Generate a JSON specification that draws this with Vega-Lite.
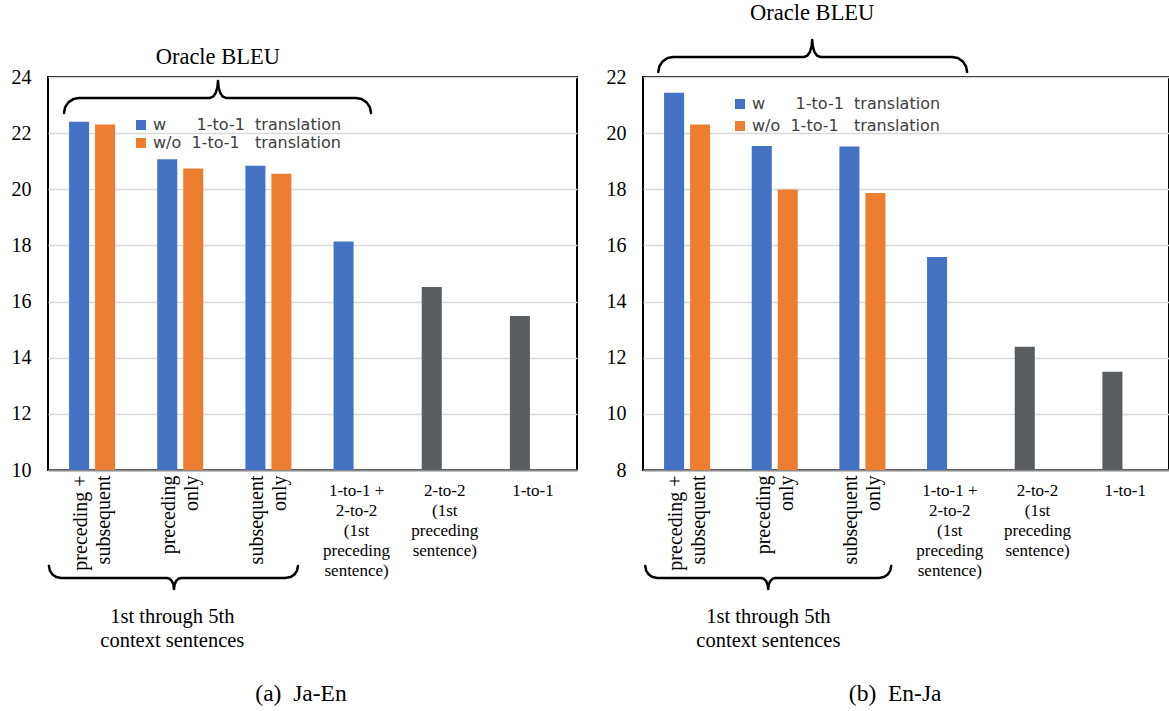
{
  "$schema": "https://vega.github.io/schema/vega-lite/v6.json",
  "background": "white",
  "padding": {"left": 10, "top": 1, "right": 1, "bottom": 2},
  "config": {
    "view": {"stroke": "#000", "strokeWidth": 2},
    "font": "Liberation Serif"
  },
  "datasets": {
    "ja_en": [
      {"setting": "preceding +|subsequent", "series": "w", "kind": "context", "bleu": 22.41},
      {"setting": "preceding +|subsequent", "series": "w/o", "kind": "context", "bleu": 22.31},
      {"setting": "preceding|only", "series": "w", "kind": "context", "bleu": 21.07},
      {"setting": "preceding|only", "series": "w/o", "kind": "context", "bleu": 20.74},
      {"setting": "subsequent|only", "series": "w", "kind": "context", "bleu": 20.84},
      {"setting": "subsequent|only", "series": "w/o", "kind": "context", "bleu": 20.55},
      {"setting": "1-to-1 +|2-to-2|(1st|preceding|sentence)", "series": "w", "kind": "context", "bleu": 18.14},
      {"setting": "2-to-2|(1st|preceding|sentence)", "series": "w", "kind": "baseline", "bleu": 16.52},
      {"setting": "1-to-1", "series": "w", "kind": "baseline", "bleu": 15.49}
    ],
    "en_ja": [
      {"setting": "preceding +|subsequent", "series": "w", "kind": "context", "bleu": 21.44},
      {"setting": "preceding +|subsequent", "series": "w/o", "kind": "context", "bleu": 20.31},
      {"setting": "preceding|only", "series": "w", "kind": "context", "bleu": 19.54},
      {"setting": "preceding|only", "series": "w/o", "kind": "context", "bleu": 17.99},
      {"setting": "subsequent|only", "series": "w", "kind": "context", "bleu": 19.52},
      {"setting": "subsequent|only", "series": "w/o", "kind": "context", "bleu": 17.87},
      {"setting": "1-to-1 +|2-to-2|(1st|preceding|sentence)", "series": "w", "kind": "context", "bleu": 15.59},
      {"setting": "2-to-2|(1st|preceding|sentence)", "series": "w", "kind": "baseline", "bleu": 12.39},
      {"setting": "1-to-1", "series": "w", "kind": "baseline", "bleu": 11.5}
    ],
    "brace_ja_en": [
      {"brace": "top", "i": 1, "u": 0.1815, "v": 22.718},
      {"brace": "top", "i": 2, "u": 0.194, "v": 22.921},
      {"brace": "top", "i": 3, "u": 0.231, "v": 23.096},
      {"brace": "top", "i": 4, "u": 0.287, "v": 23.213},
      {"brace": "top", "i": 5, "u": 0.352, "v": 23.253},
      {"brace": "top", "i": 6, "u": 1.837, "v": 23.253},
      {"brace": "top", "i": 7, "u": 1.872, "v": 23.299},
      {"brace": "top", "i": 8, "u": 1.902, "v": 23.43},
      {"brace": "top", "i": 9, "u": 1.921, "v": 23.626},
      {"brace": "top", "i": 10, "u": 1.928, "v": 23.858},
      {"brace": "top", "i": 11, "u": 1.935, "v": 23.626},
      {"brace": "top", "i": 12, "u": 1.954, "v": 23.43},
      {"brace": "top", "i": 13, "u": 1.984, "v": 23.299},
      {"brace": "top", "i": 14, "u": 2.019, "v": 23.253},
      {"brace": "top", "i": 15, "u": 3.493, "v": 23.253},
      {"brace": "top", "i": 16, "u": 3.558, "v": 23.213},
      {"brace": "top", "i": 17, "u": 3.613, "v": 23.096},
      {"brace": "top", "i": 18, "u": 3.651, "v": 22.921},
      {"brace": "top", "i": 19, "u": 3.663, "v": 22.718},
      {"brace": "bot", "i": 1, "u": 0.011, "v": 6.58},
      {"brace": "bot", "i": 2, "u": 0.021, "v": 6.416},
      {"brace": "bot", "i": 3, "u": 0.051, "v": 6.277},
      {"brace": "bot", "i": 4, "u": 0.095, "v": 6.185},
      {"brace": "bot", "i": 5, "u": 0.147, "v": 6.152},
      {"brace": "bot", "i": 6, "u": 1.35, "v": 6.152},
      {"brace": "bot", "i": 7, "u": 1.38, "v": 6.124},
      {"brace": "bot", "i": 8, "u": 1.406, "v": 6.039},
      {"brace": "bot", "i": 9, "u": 1.423, "v": 5.911},
      {"brace": "bot", "i": 10, "u": 1.429, "v": 5.761},
      {"brace": "bot", "i": 11, "u": 1.435, "v": 5.911},
      {"brace": "bot", "i": 12, "u": 1.452, "v": 6.039},
      {"brace": "bot", "i": 13, "u": 1.478, "v": 6.124},
      {"brace": "bot", "i": 14, "u": 1.508, "v": 6.152},
      {"brace": "bot", "i": 15, "u": 2.688, "v": 6.152},
      {"brace": "bot", "i": 16, "u": 2.751, "v": 6.185},
      {"brace": "bot", "i": 17, "u": 2.795, "v": 6.277},
      {"brace": "bot", "i": 18, "u": 2.825, "v": 6.416},
      {"brace": "bot", "i": 19, "u": 2.835, "v": 6.58}
    ],
    "brace_en_ja": [
      {"brace": "top", "i": 1, "u": 0.174, "v": 22.179},
      {"brace": "top", "i": 2, "u": 0.187, "v": 22.382},
      {"brace": "top", "i": 3, "u": 0.224, "v": 22.557},
      {"brace": "top", "i": 4, "u": 0.28, "v": 22.674},
      {"brace": "top", "i": 5, "u": 0.345, "v": 22.713},
      {"brace": "top", "i": 6, "u": 1.839, "v": 22.713},
      {"brace": "top", "i": 7, "u": 1.874, "v": 22.76},
      {"brace": "top", "i": 8, "u": 1.904, "v": 22.891},
      {"brace": "top", "i": 9, "u": 1.923, "v": 23.087},
      {"brace": "top", "i": 10, "u": 1.93, "v": 23.319},
      {"brace": "top", "i": 11, "u": 1.937, "v": 23.087},
      {"brace": "top", "i": 12, "u": 1.956, "v": 22.891},
      {"brace": "top", "i": 13, "u": 1.986, "v": 22.76},
      {"brace": "top", "i": 14, "u": 2.021, "v": 22.713},
      {"brace": "top", "i": 15, "u": 3.526, "v": 22.713},
      {"brace": "top", "i": 16, "u": 3.591, "v": 22.674},
      {"brace": "top", "i": 17, "u": 3.647, "v": 22.557},
      {"brace": "top", "i": 18, "u": 3.684, "v": 22.382},
      {"brace": "top", "i": 19, "u": 3.697, "v": 22.179},
      {"brace": "bot", "i": 1, "u": 0.026, "v": 4.58},
      {"brace": "bot", "i": 2, "u": 0.036, "v": 4.416},
      {"brace": "bot", "i": 3, "u": 0.066, "v": 4.277},
      {"brace": "bot", "i": 4, "u": 0.11, "v": 4.185},
      {"brace": "bot", "i": 5, "u": 0.163, "v": 4.152},
      {"brace": "bot", "i": 6, "u": 1.348, "v": 4.152},
      {"brace": "bot", "i": 7, "u": 1.379, "v": 4.124},
      {"brace": "bot", "i": 8, "u": 1.405, "v": 4.039},
      {"brace": "bot", "i": 9, "u": 1.422, "v": 3.911},
      {"brace": "bot", "i": 10, "u": 1.428, "v": 3.761},
      {"brace": "bot", "i": 11, "u": 1.434, "v": 3.911},
      {"brace": "bot", "i": 12, "u": 1.451, "v": 4.039},
      {"brace": "bot", "i": 13, "u": 1.477, "v": 4.124},
      {"brace": "bot", "i": 14, "u": 1.508, "v": 4.152},
      {"brace": "bot", "i": 15, "u": 2.694, "v": 4.152},
      {"brace": "bot", "i": 16, "u": 2.747, "v": 4.185},
      {"brace": "bot", "i": 17, "u": 2.791, "v": 4.277},
      {"brace": "bot", "i": 18, "u": 2.821, "v": 4.416},
      {"brace": "bot", "i": 19, "u": 2.831, "v": 4.58}
    ]
  },
  "hconcat": [
    {
      "width": 529,
      "height": 393,
      "resolve": {"scale": {"x": "independent"}},
      "layer": [
        {
          "data": {"name": "ja_en"},
          "mark": {"type": "bar"},
          "encoding": {
            "x": {
              "field": "setting", "type": "nominal", "sort": null,
              "scale": {"paddingInner": 0, "paddingOuter": 0},
              "axis": {
                "title": null, "ticks": false, "domainColor": "#8c8c8c", "domainWidth": 2,
                "labelFont": "Liberation Serif", "labelColor": "#000",
                "labelExpr": "split(datum.value, '|')", "labelOverlap": false, "labelLimit": 0,
                "labelLineHeight": 20,
                "labelFontSize": {"condition": {"test": "indexof(datum.value, 'to') < 0", "value": 20}, "value": 17},
                "labelAlign": {"condition": {"test": "indexof(datum.value, 'to') < 0", "value": "right"}, "value": "center"},
                "labelBaseline": {"condition": {"test": "indexof(datum.value, 'to') < 0", "value": "middle"}, "value": "top"},
                "labelPadding": {"condition": {"test": "indexof(datum.value, 'to') < 0", "value": 5}, "value": 12},
                "labelOffset": {"condition": {"test": "indexof(datum.value, 'to') < 0", "value": -11}, "value": 0},
                "encoding": {"labels": {
                  "angle": {"condition": {"test": "indexof(datum.value, 'to') < 0", "value": 270}, "value": 0},
                  "lineHeight": {"condition": {"test": "indexof(datum.value, 'to') < 0", "value": 23}, "value": 20}
                }}
              }
            },
            "xOffset": {"field": "series", "type": "nominal", "sort": ["w", "w/o"], "scale": {"paddingInner": 0.23, "paddingOuter": 0.81}},
            "y": {
              "field": "bleu", "type": "quantitative",
              "scale": {"domain": [10, 24], "nice": false, "zero": false},
              "axis": {
                "title": null, "domain": false, "ticks": false, "grid": true,
                "gridColor": "#d9d9d9", "gridWidth": 1.3, "values": [10, 12, 14, 16, 18, 20, 22, 24],
                "labelFont": "Liberation Serif", "labelFontSize": 20, "labelColor": "#000", "labelPadding": 17
              }
            },
            "y2": {"datum": 10},
            "color": {
              "condition": {"test": "datum.kind === 'baseline'", "value": "#595d60"},
              "field": "series", "type": "nominal",
              "scale": {"domain": ["w", "w/o"], "range": ["#4472c4", "#ed7d31"]},
              "legend": {
                "orient": "none", "legendX": 85, "legendY": 40, "title": null, "padding": 0,
                "symbolType": "square", "symbolSize": 100, "symbolStrokeWidth": 0,
                "labelFont": "DejaVu Sans", "labelFontSize": 16, "labelColor": "#404040",
                "rowPadding": 2, "labelOffset": 4, "labelLimit": 0,
                "labelExpr": "datum.label == 'w' ? 'w\u00a0\u00a0\u00a0\u00a0\u00a0\u00a01-to-1\u00a0\u00a0translation' : 'w/o\u00a0\u00a01-to-1\u00a0\u00a0\u00a0translation'"
              }
            }
          }
        },
        {
          "data": {"name": "brace_ja_en"},
          "mark": {"type": "line", "color": "#000", "strokeWidth": 2.5, "strokeCap": "round", "strokeJoin": "round"},
          "encoding": {
            "x": {"field": "u", "type": "quantitative", "scale": {"domain": [0, 6], "nice": false, "zero": false}, "axis": null},
            "y": {"field": "v", "type": "quantitative", "title": null, "scale": {"domain": [10, 24], "nice": false, "zero": false}},
            "detail": {"field": "brace"},
            "order": {"field": "i"}
          }
        },
        {
          "data": {"values": [{}]},
          "mark": {"type": "text", "text": "Oracle BLEU", "font": "Liberation Serif", "fontSize": 22.5, "baseline": "alphabetic", "align": "center", "color": "#000"},
          "encoding": {
            "x": {"datum": 1.926, "type": "quantitative", "scale": {"domain": [0, 6], "nice": false, "zero": false}, "axis": null},
            "y": {"datum": 24.464, "type": "quantitative", "title": null, "scale": {"domain": [10, 24], "nice": false, "zero": false}}
          }
        },
        {
          "data": {"values": [{}]},
          "mark": {"type": "text", "text": ["1st through 5th", "context sentences"], "lineHeight": 24, "font": "Liberation Serif", "fontSize": 20.5, "baseline": "alphabetic", "align": "center", "color": "#000"},
          "encoding": {
            "x": {"datum": 1.41, "type": "quantitative", "scale": {"domain": [0, 6], "nice": false, "zero": false}, "axis": null},
            "y": {"datum": 4.549, "type": "quantitative", "title": null, "scale": {"domain": [10, 24], "nice": false, "zero": false}}
          }
        },
        {
          "data": {"values": [{}]},
          "mark": {"type": "text", "text": "(a)\u00a0\u00a0Ja-En", "font": "Liberation Serif", "fontSize": 23.5, "baseline": "alphabetic", "align": "center", "color": "#000"},
          "encoding": {
            "x": {"datum": 2.87, "type": "quantitative", "scale": {"domain": [0, 6], "nice": false, "zero": false}, "axis": null},
            "y": {"datum": 1.77, "type": "quantitative", "title": null, "scale": {"domain": [10, 24], "nice": false, "zero": false}}
          }
        }
      ]
    },
    {
      "width": 526,
      "height": 393,
      "resolve": {"scale": {"x": "independent"}},
      "layer": [
        {
          "data": {"name": "en_ja"},
          "mark": {"type": "bar"},
          "encoding": {
            "x": {
              "field": "setting", "type": "nominal", "sort": null,
              "scale": {"paddingInner": 0, "paddingOuter": 0},
              "axis": {
                "title": null, "ticks": false, "domainColor": "#8c8c8c", "domainWidth": 2,
                "labelFont": "Liberation Serif", "labelColor": "#000",
                "labelExpr": "split(datum.value, '|')", "labelOverlap": false, "labelLimit": 0,
                "labelLineHeight": 20,
                "labelFontSize": {"condition": {"test": "indexof(datum.value, 'to') < 0", "value": 20}, "value": 17},
                "labelAlign": {"condition": {"test": "indexof(datum.value, 'to') < 0", "value": "right"}, "value": "center"},
                "labelBaseline": {"condition": {"test": "indexof(datum.value, 'to') < 0", "value": "middle"}, "value": "top"},
                "labelPadding": {"condition": {"test": "indexof(datum.value, 'to') < 0", "value": 5}, "value": 12},
                "labelOffset": {"condition": {"test": "indexof(datum.value, 'to') < 0", "value": -11}, "value": 0},
                "encoding": {"labels": {
                  "angle": {"condition": {"test": "indexof(datum.value, 'to') < 0", "value": 270}, "value": 0},
                  "lineHeight": {"condition": {"test": "indexof(datum.value, 'to') < 0", "value": 23}, "value": 20}
                }}
              }
            },
            "xOffset": {"field": "series", "type": "nominal", "sort": ["w", "w/o"], "scale": {"paddingInner": 0.23, "paddingOuter": 0.81}},
            "y": {
              "field": "bleu", "type": "quantitative",
              "scale": {"domain": [8, 22], "nice": false, "zero": false},
              "axis": {
                "title": null, "domain": false, "ticks": false, "grid": true,
                "gridColor": "#d9d9d9", "gridWidth": 1.3, "values": [8, 10, 12, 14, 16, 18, 20, 22],
                "labelFont": "Liberation Serif", "labelFontSize": 20, "labelColor": "#000", "labelPadding": 17
              }
            },
            "y2": {"datum": 8},
            "color": {
              "condition": {"test": "datum.kind === 'baseline'", "value": "#595d60"},
              "field": "series", "type": "nominal",
              "scale": {"domain": ["w", "w/o"], "range": ["#4472c4", "#ed7d31"]},
              "legend": {
                "orient": "none", "legendX": 89, "legendY": 19, "title": null, "padding": 0,
                "symbolType": "square", "symbolSize": 100, "symbolStrokeWidth": 0,
                "labelFont": "DejaVu Sans", "labelFontSize": 16, "labelColor": "#404040",
                "rowPadding": 6, "labelOffset": 4, "labelLimit": 0,
                "labelExpr": "datum.label == 'w' ? 'w\u00a0\u00a0\u00a0\u00a0\u00a0\u00a01-to-1\u00a0\u00a0translation' : 'w/o\u00a0\u00a01-to-1\u00a0\u00a0\u00a0translation'"
              }
            }
          }
        },
        {
          "data": {"name": "brace_en_ja"},
          "mark": {"type": "line", "color": "#000", "strokeWidth": 2.5, "strokeCap": "round", "strokeJoin": "round"},
          "encoding": {
            "x": {"field": "u", "type": "quantitative", "scale": {"domain": [0, 6], "nice": false, "zero": false}, "axis": null},
            "y": {"field": "v", "type": "quantitative", "title": null, "scale": {"domain": [8, 22], "nice": false, "zero": false}},
            "detail": {"field": "brace"},
            "order": {"field": "i"}
          }
        },
        {
          "data": {"values": [{}]},
          "mark": {"type": "text", "text": "Oracle BLEU", "font": "Liberation Serif", "fontSize": 22.5, "baseline": "alphabetic", "align": "center", "color": "#000"},
          "encoding": {
            "x": {"datum": 1.93, "type": "quantitative", "scale": {"domain": [0, 6], "nice": false, "zero": false}, "axis": null},
            "y": {"datum": 24.03, "type": "quantitative", "title": null, "scale": {"domain": [8, 22], "nice": false, "zero": false}}
          }
        },
        {
          "data": {"values": [{}]},
          "mark": {"type": "text", "text": ["1st through 5th", "context sentences"], "lineHeight": 24, "font": "Liberation Serif", "fontSize": 20.5, "baseline": "alphabetic", "align": "center", "color": "#000"},
          "encoding": {
            "x": {"datum": 1.43, "type": "quantitative", "scale": {"domain": [0, 6], "nice": false, "zero": false}, "axis": null},
            "y": {"datum": 2.549, "type": "quantitative", "title": null, "scale": {"domain": [8, 22], "nice": false, "zero": false}}
          }
        },
        {
          "data": {"values": [{}]},
          "mark": {"type": "text", "text": "(b)\u00a0\u00a0En-Ja", "font": "Liberation Serif", "fontSize": 23.5, "baseline": "alphabetic", "align": "center", "color": "#000"},
          "encoding": {
            "x": {"datum": 2.876, "type": "quantitative", "scale": {"domain": [0, 6], "nice": false, "zero": false}, "axis": null},
            "y": {"datum": -0.23, "type": "quantitative", "title": null, "scale": {"domain": [8, 22], "nice": false, "zero": false}}
          }
        }
      ]
    }
  ],
  "spacing": 27,
  "resolve": {"scale": {"color": "independent"}, "legend": {"color": "independent"}}
}
